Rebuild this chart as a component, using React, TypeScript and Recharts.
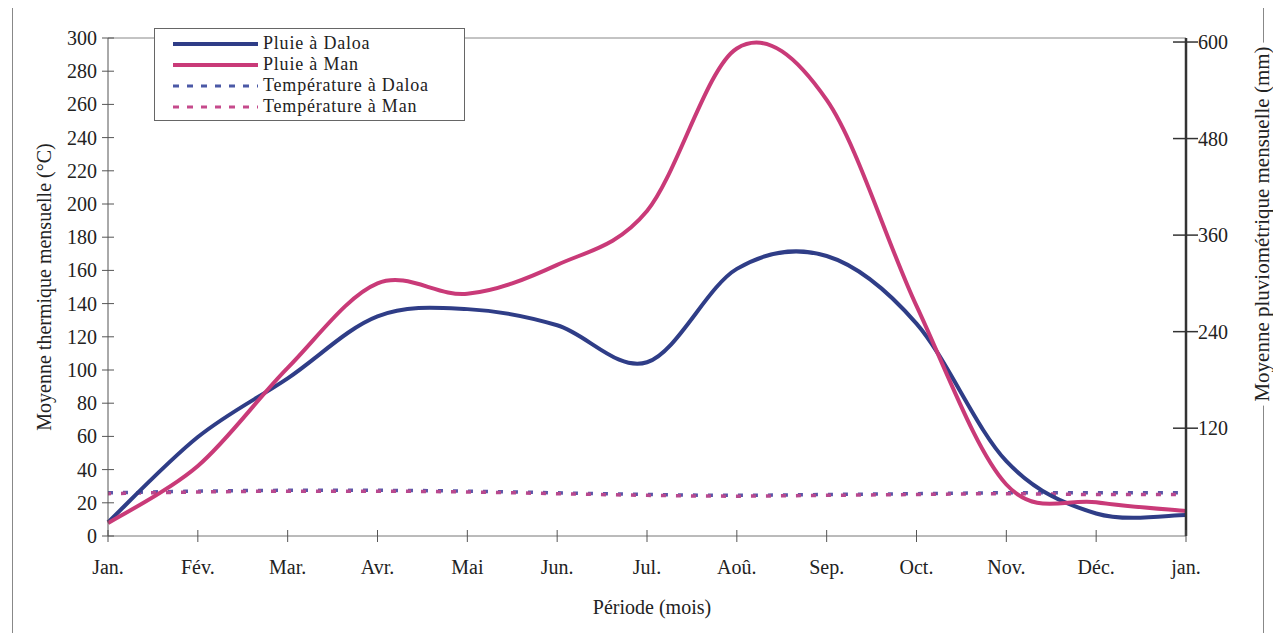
import { LineChart, Line, XAxis, YAxis, ReferenceLine } from 'recharts';

// month labels along the x axis
const months = ['Jan.', 'Fév.', 'Mar.', 'Avr.', 'Mai', 'Jun.', 'Jul.', 'Aoû.', 'Sep.', 'Oct.', 'Nov.', 'Déc.', 'jan.'];

// rainfall (mm, right axis)
const pluieDaloa = [3, 109, 182, 259, 268, 248, 202, 318, 334, 250, 79, 14, 12];
const pluieMan = [2, 73, 195, 300, 287, 323, 390, 592, 528, 272, 50, 28, 17];

// temperature (°C, left axis)
const tempDaloa = [26, 27, 27.5, 27.5, 27, 26, 25, 24.5, 25, 25.5, 26, 26, 26];
const tempMan = [25.5, 26.5, 27, 27, 26.5, 25.5, 24.5, 24, 24.5, 25, 25.5, 25, 25];

const leftTicks = [0, 20, 40, 60, 80, 100, 120, 140, 160, 180, 200, 220, 240, 260, 280, 300];
const rightTicks = [120, 240, 360, 480, 600];

const BLUE = '#2f3d87';
const PINK = '#c93a78';
const BLUE_DOT = '#5a56a8';
const PINK_DOT = '#b8488e';
const FONT = '"Liberation Serif", "Times New Roman", serif';

const data = months.map((m, i) => ({
  month: m,
  pluieDaloa: pluieDaloa[i],
  pluieMan: pluieMan[i],
  tempDaloa: tempDaloa[i],
  tempMan: tempMan[i],
}));

const legendItems = [
  { name: 'Pluie à Daloa', color: BLUE, dash: undefined, width: 4 },
  { name: 'Pluie à Man', color: PINK, dash: undefined, width: 4 },
  { name: 'Température à Daloa', color: '#4b59a6', dash: '6 8', width: 3 },
  { name: 'Température à Man', color: '#c64a8c', dash: '6 8', width: 3 },
];

// Excel-style smoothed line (Catmull-Rom through the scaled points)
function excelSmooth(context: any) {
  let pts: number[][] = [];
  return {
    areaStart() {},
    areaEnd() {},
    lineStart() {
      pts = [];
    },
    point(x: number, y: number) {
      pts.push([+x, +y]);
    },
    lineEnd() {
      if (!pts.length) return;
      context.moveTo(pts[0][0], pts[0][1]);
      for (let i = 0; i < pts.length - 1; i++) {
        const p0 = pts[Math.max(i - 1, 0)];
        const p1 = pts[i];
        const p2 = pts[i + 1];
        const p3 = pts[Math.min(i + 2, pts.length - 1)];
        context.bezierCurveTo(
          p1[0] + (p2[0] - p0[0]) / 6,
          p1[1] + (p2[1] - p0[1]) / 6,
          p2[0] - (p3[0] - p1[0]) / 6,
          p2[1] - (p3[1] - p1[1]) / 6,
          p2[0],
          p2[1]
        );
      }
    },
  };
}

const LeftTick = (props: any) => {
  const { x, y, payload } = props;
  return (
    <g>
      <line x1={x - 6} x2={x + 6} y1={y} y2={y} stroke="#555" />
      <text x={x - 11} y={y} dy={7} textAnchor="end" fontSize={20} fontFamily={FONT} fill="#222">
        {payload.value}
      </text>
    </g>
  );
};

const RightTick = (props: any) => {
  const { x, y, payload } = props;
  return (
    <g>
      <line x1={x - 13} x2={x + 12} y1={y} y2={y} stroke="#333" strokeWidth={1.5} />
      <text x={x + 12} y={y} dy={7} textAnchor="start" fontSize={20} fontFamily={FONT} fill="#222">
        {payload.value}
      </text>
    </g>
  );
};

const BottomTick = (props: any) => {
  const { x, y, payload } = props;
  return (
    <g>
      <line x1={x} x2={x} y1={y - 6} y2={y + 6} stroke="#555" />
      <text x={x} y={y} dy={38} textAnchor="middle" fontSize={20} fontFamily={FONT} fill="#222">
        {payload.value}
      </text>
    </g>
  );
};

export default function App() {
  return (
    <div style={{ position: 'relative', width: 1265, height: 625, fontFamily: FONT, color: '#222' }}>
      <div
        style={{
          position: 'absolute',
          left: 4,
          top: -6,
          width: 1250,
          height: 632,
          borderLeft: '1px solid #888',
          borderRight: '1px solid #888',
        }}
      />
      <LineChart width={1265} height={620} data={data} margin={{ top: 30, right: 0, bottom: 32, left: 0 }}>
        <XAxis
          dataKey="month"
          interval={0}
          padding={{ left: 0, right: 0 }}
          height={60}
          tickSize={0}
          tickMargin={0}
          tickLine={false}
          tick={<BottomTick />}
          axisLine={{ stroke: '#777' }}
        />
        <YAxis
          yAxisId="left"
          domain={[0, 300]}
          ticks={leftTicks}
          interval={0}
          width={100}
          tickSize={0}
          tickMargin={0}
          tickLine={false}
          tick={<LeftTick />}
          axisLine={{ stroke: '#555' }}
        />
        <YAxis
          yAxisId="right"
          orientation="right"
          domain={[-14, 605]}
          ticks={rightTicks}
          interval={0}
          width={87}
          tickSize={0}
          tickMargin={0}
          tickLine={false}
          tick={<RightTick />}
          axisLine={{ stroke: '#333', strokeWidth: 2.5 }}
        />
        <ReferenceLine yAxisId="left" y={300} stroke="#888" />
        <Line
          yAxisId="left"
          dataKey="tempDaloa"
          type="monotone"
          stroke={BLUE_DOT}
          strokeWidth={3.5}
          strokeDasharray="5 10"
          dot={false}
          isAnimationActive={false}
        />
        <Line
          yAxisId="left"
          dataKey="tempMan"
          type="monotone"
          stroke={PINK_DOT}
          strokeWidth={3.5}
          strokeDasharray="5 10"
          strokeDashoffset={2}
          dot={false}
          isAnimationActive={false}
        />
        <Line
          yAxisId="right"
          dataKey="pluieDaloa"
          type={excelSmooth as any}
          stroke={BLUE}
          strokeWidth={4}
          dot={false}
          isAnimationActive={false}
        />
        <Line
          yAxisId="right"
          dataKey="pluieMan"
          type={excelSmooth as any}
          stroke={PINK}
          strokeWidth={4}
          dot={false}
          isAnimationActive={false}
        />
      </LineChart>

      {/* legend */}
      <div
        style={{
          position: 'absolute',
          left: 146,
          top: 20,
          width: 311,
          height: 93,
          border: '1px solid #666',
          background: '#fff',
          paddingTop: 4,
          boxSizing: 'border-box',
        }}
      >
        {legendItems.map((it) => (
          <div key={it.name} style={{ display: 'flex', alignItems: 'center', height: 21 }}>
            <svg width={108} height={10} style={{ flex: 'none' }}>
              <line
                x1={18}
                x2={103}
                y1={5}
                y2={5}
                stroke={it.color}
                strokeWidth={it.width}
                strokeDasharray={it.dash}
              />
            </svg>
            <span style={{ display: 'block', fontSize: 18, lineHeight: '21px', letterSpacing: 0.8 }}>
              {it.name}
            </span>
          </div>
        ))}
      </div>

      {/* axis titles */}
      <div
        style={{
          position: 'absolute',
          left: 36,
          top: 279,
          transform: 'translate(-50%, -50%) rotate(-90deg)',
          whiteSpace: 'nowrap',
          fontSize: 20,
        }}
      >
        Moyenne thermique mensuelle (°C)
      </div>
      <div
        style={{
          position: 'absolute',
          left: 1254,
          top: 216,
          transform: 'translate(-50%, -50%) rotate(-90deg)',
          whiteSpace: 'nowrap',
          fontSize: 21,
          background: '#fff',
          padding: '0 4px',
        }}
      >
        Moyenne pluviométrique mensuelle (mm)
      </div>
      <div
        style={{
          position: 'absolute',
          left: 644,
          top: 599,
          transform: 'translate(-50%, -50%)',
          whiteSpace: 'nowrap',
          fontSize: 20,
        }}
      >
        Période (mois)
      </div>
    </div>
  );
}
